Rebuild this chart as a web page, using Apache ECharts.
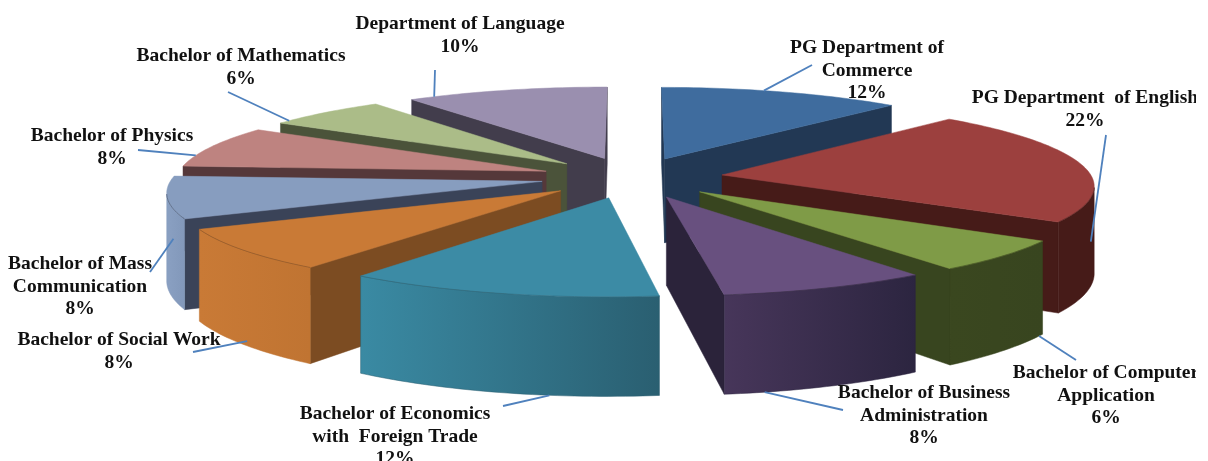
<!DOCTYPE html>
<html><head><meta charset="utf-8">
<style>html,body{margin:0;padding:0;background:#fff}#c{width:1196px;height:461px;overflow:hidden}</style>
<script src="https://cdn.jsdelivr.net/npm/echarts@6/dist/echarts.min.js"></script>
</head><body><div id="c"></div>
<script>
// ---- chart data ----
const categories = [
  'PG Department of\nCommerce',
  'PG Department  of English',
  'Bachelor of Computer\nApplication',
  'Bachelor of Business\nAdministration',
  'Bachelor of Economics\nwith  Foreign Trade',
  'Bachelor of Social Work',
  'Bachelor of Mass\nCommunication',
  'Bachelor of Physics',
  'Bachelor of Mathematics',
  'Department of Language'
];
const shares = [12, 22, 6, 8, 12, 8, 8, 8, 6, 10];

// ---- styling ----
const topColors  = ['#3F6C9E','#9C403E','#7F9B47','#68507F','#3C8BA5','#C97A36','#879DBF','#BE8380','#ABBC88','#9A8FAF'];
const cutColors  = ['#223854','#461B18','#38451F','#2B233A','#2B6274','#7C4C22','#3A4358','#55383A','#4B533A','#423D4C'];
const rimLeft    = ['#223854','#461B18','#3A471F','#47365A','#3A8AA3','#C97A36','#8AA0C2','#55383A','#4B533A','#423D4C'];
const rimRight   = ['#223854','#461B18','#38451F','#2C2540','#2A5F71','#C07432','#8298BA','#55383A','#4B533A','#423D4C'];

// ---- projection of the tilted, exploded disc ----
const CX = 632, CY = 177.5, RADIUS = 370, EXPLODE = 0.246, TILT = 0.225, PERSP = 0.11, DEPTH = 86;
const scaleAt = Y => 1 / (1 - PERSP * Y);
const project = (X, Y, down) => {
  const s = scaleAt(Y);
  return [CX + RADIUS * X * s, CY + RADIUS * TILT * Y * s + (down || 0) * DEPTH * s];
};
const radial = a => [Math.sin(a), -Math.cos(a)];
const total = shares.reduce((a, b) => a + b, 0);
let running = 0;
const slices = shares.map((v, i) => {
  const a0 = running / total * 2 * Math.PI; running += v;
  const a1 = running / total * 2 * Math.PI;
  return { i, v, a0, a1, mid: (a0 + a1) / 2 };
});
const facing = (P, n) => (0 - P[0]) * n[0] + (1 / PERSP - P[1]) * n[1] > 0;

function sliceGeometry(s) {
  const off = radial(s.mid).map(c => c * EXPLODE);
  const n = Math.max(4, Math.ceil((s.a1 - s.a0) / 0.02));
  const rim = [];
  for (let k = 0; k <= n; k++) {
    const a = s.a0 + (s.a1 - s.a0) * k / n, r = radial(a);
    rim.push({ a, P: [off[0] + r[0], off[1] + r[1]], r });
  }
  return { off, rim };
}

function renderSlice(params, api) {
  const s = slices[api.value(0)];
  const { off, rim } = sliceGeometry(s);
  const children = [];
  const poly = (points, fill) => children.push({
    type: 'polygon', shape: { points },
    style: { fill, stroke: fill, lineWidth: 0.5 }
  });
  // radial cut walls
  const first = rim[0], last = rim[rim.length - 1];
  [[first, radial(s.a0 - Math.PI / 2)], [last, radial(s.a1 + Math.PI / 2)]].forEach(([e, nrm]) => {
    if (facing(off, nrm)) {
      poly([project(off[0], off[1]), project(e.P[0], e.P[1]),
            project(e.P[0], e.P[1], 1), project(off[0], off[1], 1)], cutColors[s.i]);
    }
  });
  // outer rim wall (visible part only)
  const vis = rim.filter(q => facing(q.P, q.r));
  let upperEdge = null;
  if (vis.length > 1) {
    const up = vis.map(q => project(q.P[0], q.P[1]));
    const dn = vis.map(q => project(q.P[0], q.P[1], 1)).reverse();
    const xs = up.map(p => p[0]);
    const fill = new echarts.graphic.LinearGradient(Math.min(...xs), 0, Math.max(...xs), 0,
      [{ offset: 0, color: rimLeft[s.i] }, { offset: 1, color: rimRight[s.i] }], true);
    children.push({ type: 'polygon', shape: { points: up.concat(dn) }, style: { fill, stroke: rimRight[s.i], lineWidth: 0.5 } });
    upperEdge = up;
  }
  // top face
  poly([project(off[0], off[1])].concat(rim.map(q => project(q.P[0], q.P[1]))), topColors[s.i]);
  // thin crease between the top face and the rim wall
  if (upperEdge) {
    children.push({ type: 'polyline', shape: { points: upperEdge },
      style: { stroke: cutColors[s.i], lineWidth: 0.7, fill: null, opacity: 0.7 } });
  }
  return { type: 'group', children };
}

// ---- label placement: label centre, first line centre, leader end, rim position, rim level ----
const labelX     = [867, 1085, 1106, 924, 395, 119, 80, 112, 241, 460];
const labelY     = [46, 96, 371, 391, 412, 338, 262, 134, 54, 22];
const leaderEndX = [812, 1106, 1076, 843, 503, 193, 150, 138, 228, 435];
const leaderEndY = [65, 135, 360, 410, 406, 352, 272, 150, 92, 70];
const leaderT    = [0.42, 0.79, 0.04, 0.79, 0.35, 0.45, 0.22, 0.28, 0.12, 0.13];
const leaderLow  = [0, 0.5, 1, 1, 1, 0.95, 0.33, 0, 0, 0];

function renderLabel(params, api) {
  const i = api.value(0), s = slices[i];
  const { rim } = sliceGeometry(s);
  const q = rim[Math.round(leaderT[i] * (rim.length - 1))];
  const a = project(q.P[0], q.P[1], leaderLow[i]);
  return { type: 'group', children: [
    { type: 'line', shape: { x1: a[0], y1: a[1], x2: leaderEndX[i], y2: leaderEndY[i] },
      style: { stroke: '#4F81BD', lineWidth: 1.8 } },
    { type: 'text', style: {
        text: categories[i] + '\n' + api.value(1) + '%',
        x: labelX[i], y: labelY[i] - 9, align: 'center', verticalAlign: 'top',
        font: 'bold 19.5px "Liberation Serif"', lineHeight: 22.5, fill: '#111' } }
  ]};
}

const drawOrder = slices.slice().sort((p, q) => Math.cos(q.mid) - Math.cos(p.mid));
const chart = echarts.init(document.getElementById('c'), null, { renderer: 'canvas' });
chart.setOption({
  animation: false,
  backgroundColor: '#fff',
  series: [
    { type: 'custom', coordinateSystem: 'none', renderItem: renderSlice, z: 2,
      silent: true, data: drawOrder.map(s => [s.i, s.v]) },
    { type: 'custom', coordinateSystem: 'none', renderItem: renderLabel, z: 3,
      silent: true, data: slices.map(s => [s.i, s.v]) }
  ]
});
</script></body></html>
